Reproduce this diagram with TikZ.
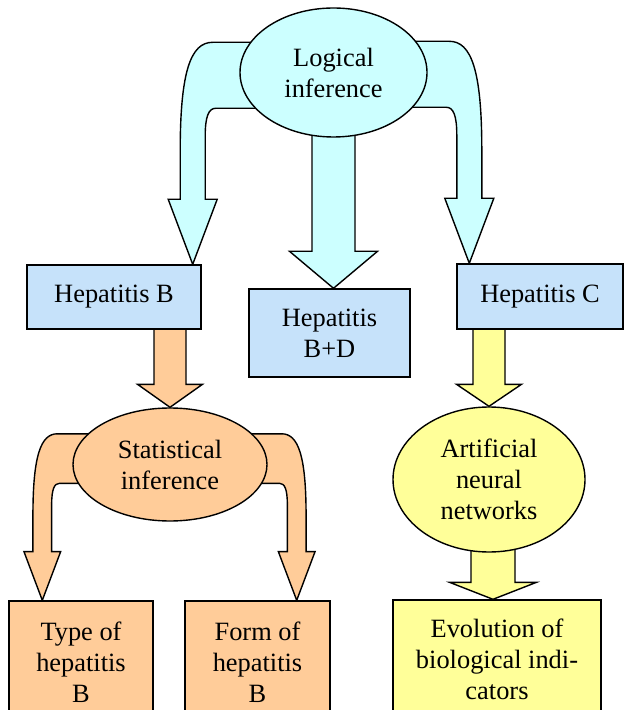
\documentclass[tikz,border=0pt]{standalone}
\usepackage{fontspec}
\setmainfont{Liberation Serif}
\usetikzlibrary{shapes.geometric,calc,backgrounds}

\definecolor{cyanfill}{HTML}{CCFFFF}
\definecolor{bluebox}{HTML}{C6E2FA}
\definecolor{orangefill}{HTML}{FFCC99}
\definecolor{yellowfill}{HTML}{FFFF99}

% straight block arrow: style, top, tip, shaft half width, head half width, head length
\newcommand{\blockdown}[6]{%
  \filldraw[#1] let \p1=#2, \p2=#3 in
    (\p2) -- (\x2-#5,\y2+#6) -- (\x2-#4,\y2+#6) -- (\x2-#4,\y1)
    -- (\x2+#4,\y1) -- (\x2+#4,\y2+#6) -- (\x2+#5,\y2+#6) -- cycle;}

% bent block arrow: style, tip, side (1 or -1), size
\newcommand{\bendarrow}[4]{%
  \begin{scope}[shift={#2},xscale=#3*#4,yscale=#4]
    \filldraw[#1] (0,0) -- (-24.5,-65) -- (-12.5,-65) -- (-12.5,-113)
      .. controls (-12.5,-193) and (-2,-222) .. (20,-222) -- (100,-222)
      -- (100,-156) -- (23,-156)
      .. controls (16,-156) and (12.5,-148) .. (12.5,-128)
      -- (12.5,-65) -- (24.5,-65) -- cycle;
  \end{scope}}

\begin{document}
\begin{tikzpicture}[x=0.5pt,y=-0.5pt,font=\fontsize{13.2}{15.5}\selectfont]
    \tikzstyle{box}=[rectangle,draw=black,fill=bluebox,line width=0.7pt,align=center,inner sep=0pt]
    \tikzstyle{oval}=[ellipse,draw=black,line width=0.7pt,align=center,inner sep=0pt]
    \tikzstyle{blk}=[draw=black,line width=0.7pt]

    \useasboundingbox (0,0) rectangle (624,710);
    \clip (0,0) rectangle (624,710);

    \node[oval,fill=cyanfill,minimum width=93.5pt,minimum height=64.5pt] (logic) at (333.5,72.5) {Logical\\inference};

    \node[box,minimum width=87pt,minimum height=32pt] (hepB) at (114,297) {Hepatitis B};
    \node[box,minimum width=80.5pt,minimum height=44pt] (hepBD) at (329.5,333) {Hepatitis\\B+D};
    \node[box,minimum width=83pt,minimum height=32.5pt] (hepC) at (540,296.5) {Hepatitis C};

    \node[oval,fill=orangefill,minimum width=97pt,minimum height=56.5pt] (stat) at (170,464.5) {Statistical\\inference};
    \node[oval,fill=yellowfill,minimum width=96pt,minimum height=72.5pt] (ann) at (489,479.5) {Artificial\\neural\\networks};

    \node[box,fill=orangefill,minimum width=72pt,minimum height=61pt] (typeB) at (81,662) {Type of\\hepatitis\\B};
    \node[box,fill=orangefill,minimum width=72.5pt,minimum height=61pt] (formB) at (257.5,662) {Form of\\hepatitis\\B};
    \node[box,fill=yellowfill,minimum width=104pt,minimum height=59pt] (evo) at (497,659) {Evolution of\\biological indi-\\cators};

    \begin{pgfonlayer}{background}
        \bendarrow{blk,fill=cyanfill}{($(hepB.north east)+(-9,0)$)}{1}{1}
        \bendarrow{blk,fill=cyanfill}{($(hepC.north west)+(13,0)$)}{-1}{1}
        \blockdown{blk,fill=cyanfill}{(logic.center)}{(logic.south |- hepBD.north)}{10.75pt}{22pt}{18.5pt}

        \blockdown{blk,fill=orangefill}{(hepB.center)}{(stat.north)}{8pt}{16.25pt}{11.5pt}
        \bendarrow{blk,fill=orangefill}{($(typeB.north west)+(34,0)$)}{1}{0.75}
        \bendarrow{blk,fill=orangefill}{($(formB.north east)+(-34,0)$)}{-1}{0.75}

        \blockdown{blk,fill=yellowfill}{(hepC.center)}{(ann.north)}{8pt}{16.25pt}{11pt}
        \blockdown{blk,fill=yellowfill}{(ann.center)}{($(ann.south |- evo.north)+(4,0)$)}{11pt}{21.75pt}{8.5pt}
    \end{pgfonlayer}
\end{tikzpicture}
\end{document}
